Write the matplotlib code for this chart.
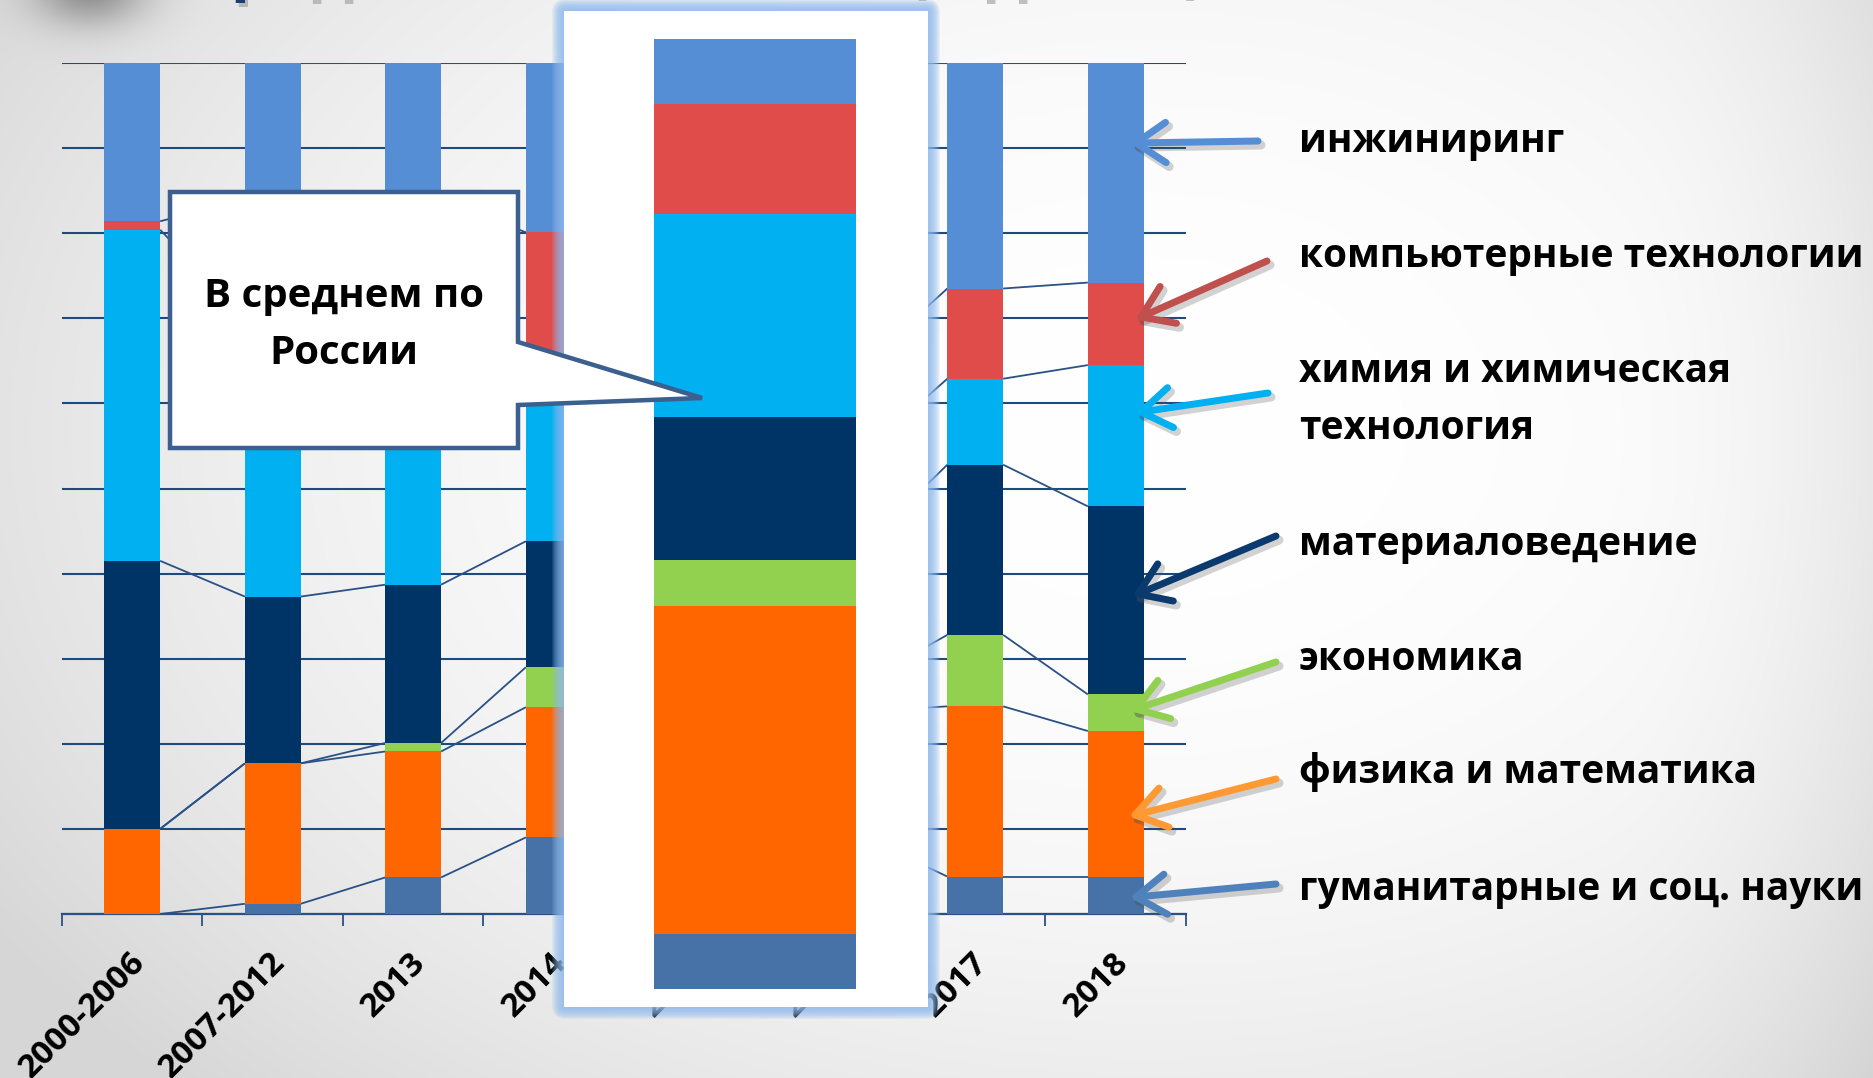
import numpy as np
import matplotlib
matplotlib.use("Agg")
import matplotlib.pyplot as plt
from matplotlib.patches import Polygon, FancyBboxPatch
from matplotlib.transforms import ScaledTranslation

W, H, DPI = 1874, 1078, 100

# ---- data (shares of each field, %) ----
categories = ["2000-2006", "2007-2012", "2013", "2014", "2015", "2016", "2017", "2018"]
humanities   = [0.0, 1.2, 4.3, 9.0, 8.0, 9.1, 4.4, 4.4]
physics_math = [10.0, 16.5, 14.8, 15.3, 17.0, 14.7, 20.0, 17.1]
economics    = [0.0, 0.0, 1.0, 4.7, 4.0, 3.4, 8.4, 4.3]
materials    = [31.5, 19.6, 18.6, 14.8, 15.0, 15.9, 20.0, 22.1]
chemistry    = [38.9, 32.7, 31.3, 18.2, 14.0, 11.0, 10.1, 16.6]
computing    = [1.0, 14.0, 14.0, 18.1, 12.0, 10.4, 10.6, 9.7]
engineering  = [18.6, 16.0, 16.0, 19.9, 30.0, 35.5, 26.5, 25.8]

# average over Russia, same order of fields (bottom to top)
russia_avg = [5.8, 34.5, 4.9, 15.0, 21.4, 11.6, 6.8]

field_labels = ["гуманитарные и соц. науки", "физика и математика", "экономика",
                "материаловедение", "химия и химическая\nтехнология",
                "компьютерные технологии", "инжиниринг"]
callout_text = "В среднем по\nРоссии"
title_text = "Средние показатели (в долях)"

series = [humanities, physics_math, economics, materials, chemistry, computing, engineering]
bar_colors = ["#4672a7", "#ff6600", "#92d050", "#003366", "#00b0f0", "#e04c4a", "#568ed5"]
arrow_colors = ["#4f81bd", "#ff9933", "#92d050", "#0a3a6e", "#00b0f0", "#c0504d", "#558ed5"]

FONT = "Open Sans"
LINE = "#2a5186"


def px(v):
    """pixels -> points"""
    return v * 72.0 / DPI


fig = plt.figure(figsize=(W / DPI, H / DPI), dpi=DPI)

# ---- soft slide background ----
bg = fig.add_axes([0, 0, 1, 1], zorder=0)
yy, xx = np.mgrid[0:H, 0:W]
r = np.sqrt(((xx - 1150) / 1250.0) ** 2 + ((yy - 430) / 850.0) ** 2)
v = 1 - 0.13 * np.clip(r, 0, 1.1) ** 2.2
v -= 0.05 * np.clip((xx - 1600) / 274.0, 0, 1) ** 2
v -= 0.30 * np.exp(-(((xx - 90) / 40.0) ** 2 + ((yy + 10) / 25.0) ** 2) / 2)
bg.imshow(np.dstack([v, v, v]).clip(0, 1), extent=(0, W, H, 0), aspect="auto")
bg.set_xlim(0, W)
bg.set_ylim(H, 0)
bg.axis("off")

# ---- main stacked chart ----
L, R, T, B = 62, 1186, 63, 914
ax = fig.add_axes([L / W, (H - B) / H, (R - L) / W, (B - T) / H], zorder=1)
ax.patch.set_alpha(0)
x = np.arange(len(categories))
bw = 0.397
bottom = np.zeros(len(categories))
tops = []
for vals, col in zip(series, bar_colors):
    vals = np.asarray(vals)
    ax.bar(x, vals, bw, bottom=bottom, color=col, linewidth=0, zorder=3)
    bottom = bottom + vals
    tops.append(bottom.copy())

# series lines joining the segment boundaries of neighbouring bars
for top in tops:
    for i in range(len(categories) - 1):
        ax.plot([x[i] + bw / 2, x[i + 1] - bw / 2], [top[i], top[i + 1]],
                color=LINE, lw=1.3, zorder=2, solid_capstyle="butt")

ax.set_xlim(-0.5, len(categories) - 0.5)
ax.set_ylim(0, 100)
ax.set_yticks(np.arange(0, 101, 10))
ax.grid(axis="y", color="#1f4a7e", lw=1.5, zorder=1)
ax.set_axisbelow(True)
ax.tick_params(axis="y", left=False, labelleft=False)
for s in ("left", "right", "top"):
    ax.spines[s].set_visible(False)
ax.spines["bottom"].set_color(LINE)
ax.spines["bottom"].set_linewidth(1.6)
ax.set_xticks(x)
ax.set_xticklabels([])
ax.tick_params(axis="x", which="major", length=0)
ax.set_xticks(np.arange(-0.5, len(categories), 1), minor=True)
ax.tick_params(axis="x", which="minor", length=px(12), width=1.3, color=LINE, direction="out")

for i, lab in enumerate(categories):
    tr = ax.transData + ScaledTranslation(-4 / DPI, -32 / DPI, fig.dpi_scale_trans)
    ax.text(i, 0, lab, transform=tr, rotation=45, rotation_mode="anchor",
            ha="right", va="top", fontsize=24, fontweight="bold", family=FONT,
            color="black", clip_on=False)

# ---- panel with the national average ----
pan = fig.add_axes([0, 0, 1, 1], zorder=2)
pan.set_xlim(0, W)
pan.set_ylim(H, 0)
pan.axis("off")
pan.patch.set_alpha(0)
px0, py0, px1, py1 = 564, 11, 928, 1007
for k in range(12, 0, -1):
    pan.add_patch(FancyBboxPatch((px0 - k, py0 - k), (px1 - px0) + 2 * k, (py1 - py0) + 2 * k,
                                 boxstyle="round,pad=0,rounding_size=%d" % (k + 2),
                                 fc="#8fbaee", ec="none", alpha=0.14))
pan.add_patch(FancyBboxPatch((px0, py0), px1 - px0, py1 - py0, boxstyle="square,pad=0",
                             fc="white", ec="none"))

pbar = fig.add_axes([654 / W, (H - 989) / H, 202 / W, 950 / H], zorder=3)
pbar.patch.set_alpha(0)
acc = 0.0
for val, col in zip(russia_avg, bar_colors):
    pbar.bar(0, val, 1.0, bottom=acc, color=col, linewidth=0)
    acc += val
pbar.set_xlim(-0.5, 0.5)
pbar.set_ylim(0, 100)
pbar.axis("off")

# ---- annotations: callout, arrows, field names, heading ----
top = fig.add_axes([0, 0, 1, 1], zorder=4)
top.set_xlim(0, W)
top.set_ylim(H, 0)
top.axis("off")
top.patch.set_alpha(0)

# heading (runs off the top edge of the slide, only descenders remain)
top.text(190, -13, title_text, ha="left", va="baseline", fontsize=46, fontweight="bold",
         family=FONT, color="#9a9a9a", alpha=0.6,
         transform=top.transData + ScaledTranslation(3 / DPI, -4 / DPI, fig.dpi_scale_trans))
top.text(190, -13, title_text, ha="left", va="baseline", fontsize=46, fontweight="bold",
         family=FONT, color="#1f3c6e")

callout = [(170, 192), (518, 192), (518, 342), (702, 398), (518, 405), (518, 448), (170, 448)]
top.add_patch(Polygon(callout, closed=True, fc="white", ec="#3b5f8e", lw=px(4.5),
                      joinstyle="miter"))
top.text(344, 307, callout_text.split("\n")[0], ha="center", va="baseline", fontsize=29,
         fontweight="bold", family=FONT, color="black")
top.text(344, 364, callout_text.split("\n")[1], ha="center", va="baseline", fontsize=29,
         fontweight="bold", family=FONT, color="black")

arrows = [((1276, 884), (1136, 897)),   # humanities
          ((1276, 779), (1135, 815)),   # physics & maths
          ((1276, 662), (1136, 709)),   # economics
          ((1276, 536), (1138, 594)),   # materials
          ((1268, 393), (1141, 412)),   # chemistry
          ((1267, 261), (1141, 317)),   # computing
          ((1258, 141), (1136, 143))]   # engineering


def draw_arrow(tail, tip, color, dx=0, dy=0, alpha=1.0, lw=7):
    (x0, y0), (x1, y1) = tail, tip
    ang = np.arctan2(y0 - y1, x0 - x1)
    arm, spread = 36, np.radians(34)
    pts = [(x1 + arm * np.cos(ang + s), y1 + arm * np.sin(ang + s)) for s in (spread, -spread)]
    kw = dict(color=color, lw=px(lw), alpha=alpha, solid_capstyle="round",
              solid_joinstyle="round")
    top.plot([x0 + dx, x1 + dx], [y0 + dy, y1 + dy], **kw)
    top.plot([pts[0][0] + dx, x1 + dx, pts[1][0] + dx], [pts[0][1] + dy, y1 + dy, pts[1][1] + dy], **kw)


for (tail, tip), col in zip(arrows, arrow_colors):
    draw_arrow(tail, tip, "#505050", dx=3, dy=4, alpha=0.25, lw=9)
    draw_arrow(tail, tip, col)

baselines = [900, 783, 670, 555, 382, 267, 152]
for lab, yb in zip(field_labels, baselines):
    for j, line in enumerate(lab.split("\n")):
        top.text(1299, yb + 57 * j, line, ha="left", va="baseline", fontsize=28,
                 fontweight="bold", family=FONT, color="black")

fig.savefig("out.png", dpi=DPI)
